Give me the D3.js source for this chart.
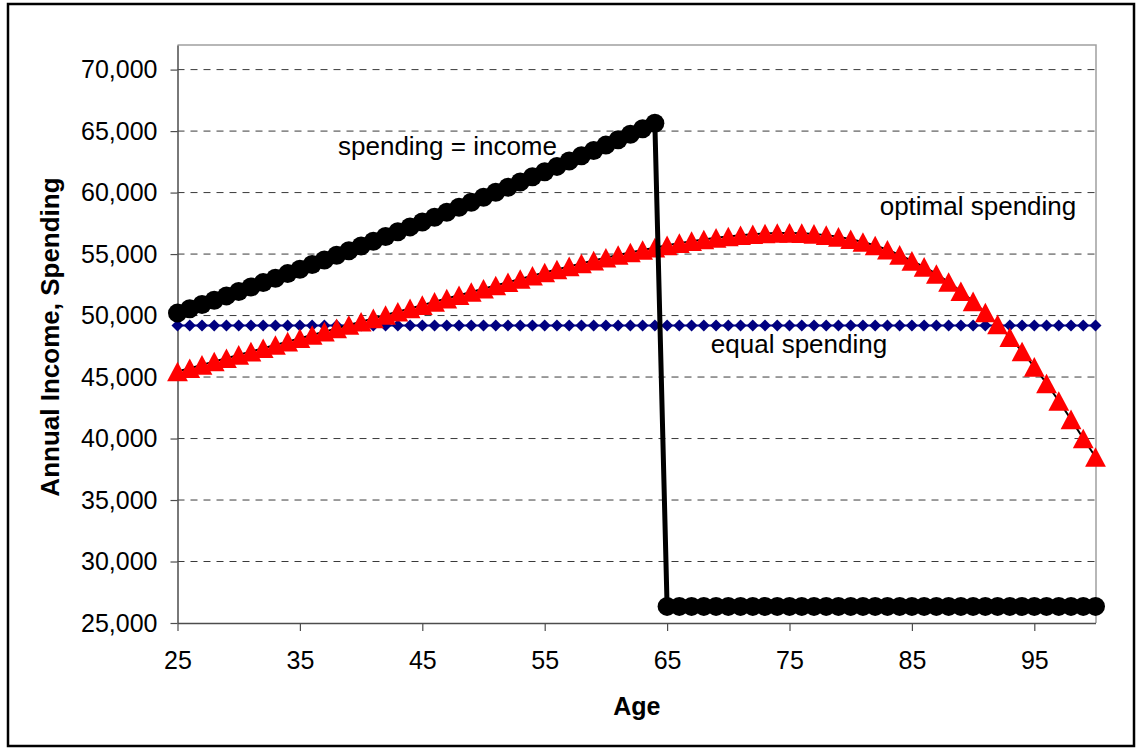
<!DOCTYPE html>
<html>
<head>
<meta charset="utf-8">
<script src="https://cdnjs.cloudflare.com/ajax/libs/d3/7.8.5/d3.min.js"></script>
<style>
  body { margin: 0; background: #ffffff; }
  text { font-family: "Liberation Sans", Arial, sans-serif; }
</style>
</head>
<body>
<div id="chart"></div>
<script>
// Ages on the x axis (one point per year)
const ages = [
  25, 26, 27, 28, 29, 30, 31, 32, 33, 34, 35, 36, 37, 38, 39, 40, 41, 42, 43, 44,
  45, 46, 47, 48, 49, 50, 51, 52, 53, 54, 55, 56, 57, 58, 59, 60, 61, 62, 63, 64,
  65, 66, 67, 68, 69, 70, 71, 72, 73, 74, 75, 76, 77, 78, 79, 80, 81, 82, 83, 84,
  85, 86, 87, 88, 89, 90, 91, 92, 93, 94, 95, 96, 97, 98, 99, 100
];

// spending = income (black circles)
const incomeSpending = [
  50200, 50550, 50900, 51250, 51600, 51960, 52320, 52680, 53040, 53410,
  53770, 54150, 54520, 54900, 55270, 55660, 56040, 56430, 56820, 57210,
  57600, 58000, 58400, 58800, 59210, 59620, 60030, 60440, 60860, 61280,
  61700, 62130, 62560, 62990, 63420, 63860, 64300, 64750, 65190, 65640,
  26350, 26350, 26350, 26350, 26350, 26350, 26350, 26350, 26350, 26350,
  26350, 26350, 26350, 26350, 26350, 26350, 26350, 26350, 26350, 26350,
  26350, 26350, 26350, 26350, 26350, 26350, 26350, 26350, 26350, 26350,
  26350, 26350, 26350, 26350, 26350, 26350
];

// equal spending (blue diamonds)
const equalSpending = [
  49200, 49200, 49200, 49200, 49200, 49200, 49200, 49200, 49200, 49200,
  49200, 49200, 49200, 49200, 49200, 49200, 49200, 49200, 49200, 49200,
  49200, 49200, 49200, 49200, 49200, 49200, 49200, 49200, 49200, 49200,
  49200, 49200, 49200, 49200, 49200, 49200, 49200, 49200, 49200, 49200,
  49200, 49200, 49200, 49200, 49200, 49200, 49200, 49200, 49200, 49200,
  49200, 49200, 49200, 49200, 49200, 49200, 49200, 49200, 49200, 49200,
  49200, 49200, 49200, 49200, 49200, 49200, 49200, 49200, 49200, 49200,
  49200, 49200, 49200, 49200, 49200, 49200
];

// optimal spending (red triangles)
const optimalSpending = [
  45450, 45720, 45990, 46260, 46530, 46800, 47070, 47340, 47610, 47880,
  48150, 48420, 48690, 48960, 49230, 49500, 49770, 50040, 50310, 50580,
  50850, 51115, 51380, 51645, 51910, 52175, 52440, 52705, 52970, 53235,
  53500, 53750, 53995, 54235, 54470, 54700, 54920, 55130, 55330, 55520,
  55710, 55890, 56050, 56190, 56320, 56430, 56530, 56610, 56670, 56710,
  56720, 56700, 56640, 56540, 56400, 56200, 55980, 55700, 55350, 54930,
  54450, 53960, 53380, 52730, 51980, 51150, 50250, 49280, 48230, 47080,
  45830, 44480, 43050, 41560, 40000, 38500
];

// Tick labels
const xTicks = [25, 35, 45, 55, 65, 75, 85, 95];
const yTicks = [25000, 30000, 35000, 40000, 45000, 50000, 55000, 60000, 65000, 70000];

const Theme = {
  color_income: '#000000',
  color_equal: '#000080',
  color_optimal: '#ff0000',
  color_axis: '#4d4d4d',
  color_grid: '#3a3a3a',
  color_frame: '#a0a0a0'
};

class IncomeChart {
  /**
   * Builds the chart inside the given div.
   * @param  {String} divName   Selector of the div holding the chart.
   */
  constructor(divName){
    this.divName = divName;
    this.width = 1139;
    this.height = 750;
    this.plot = {left: 177.5, right: 1096, top: 45, bottom: 623};
    this.xScale = d3.scaleLinear()
      .domain([25, 100])
      .range([this.plot.left, 1095.5]);
    this.yScale = d3.scaleLinear()
      .domain([25000, 72000])
      .range([this.plot.bottom, this.plot.top]);
    this.add_svg_structure();
  }

  /**
   * Adds the svg and the outer frame.
   */
  add_svg_structure(){
    this.svg = d3.select(this.divName)
      .append('svg')
        .attr('width', this.width)
        .attr('height', this.height);

    this.svg.append('rect')
      .attr('x', 8)
      .attr('y', 4)
      .attr('width', 1126)
      .attr('height', 742)
      .attr('fill', '#ffffff')
      .attr('stroke', '#000000')
      .attr('stroke-width', 2.5);
  }

  /**
   * Adds dashed gridlines and the light plot frame.
   */
  add_gridlines(){
    this.svg.append('g')
      .selectAll('line')
      .data(yTicks.filter(d => d > 25000))
      .join('line')
        .attr('x1', this.plot.left)
        .attr('x2', this.plot.right)
        .attr('y1', d => this.yScale(d))
        .attr('y2', d => this.yScale(d))
        .attr('stroke', Theme.color_grid)
        .attr('stroke-width', 1)
        .attr('stroke-dasharray', '7,6');

    this.svg.append('path')
      .attr('d', `M${this.plot.left},${this.plot.top}H${this.plot.right}V${this.plot.bottom}`)
      .attr('fill', 'none')
      .attr('stroke', Theme.color_frame)
      .attr('stroke-width', 1.5);
  }

  /**
   * Adds x and y axes with their titles.
   */
  add_axes(){
    const yAxisGenerator = d3.axisLeft(this.yScale)
      .tickValues(yTicks)
      .tickSize(7)
      .tickSizeOuter(0)
      .tickPadding(13)
      .tickFormat(d3.format(','));
    const yAxis = this.svg.append('g')
      .attr('transform', `translate(${this.plot.left},0)`)
      .call(yAxisGenerator);

    const xAxisGenerator = d3.axisBottom(this.xScale)
      .tickValues(xTicks)
      .tickSize(8)
      .tickSizeOuter(0)
      .tickPadding(20)
      .tickFormat(d3.format('d'));
    const xAxis = this.svg.append('g')
      .attr('transform', `translate(0,${this.plot.bottom})`)
      .call(xAxisGenerator);

    // Style both axes
    [xAxis, yAxis].forEach(axis => {
      axis.select('.domain')
        .attr('stroke', Theme.color_axis)
        .attr('stroke-width', 1.5);
      axis.selectAll('.tick line')
        .attr('stroke', Theme.color_axis)
        .attr('stroke-width', 1.2);
      axis.selectAll('.tick text')
        .attr('fill', '#000000')
        .style('font-size', '25px')
        .style('font-family', '"Liberation Sans", Arial, sans-serif');
    });

    // Axis titles
    this.svg.append('text')
      .attr('x', (this.plot.left + this.plot.right) / 2)
      .attr('y', 715)
      .attr('text-anchor', 'middle')
      .style('font-size', '25px')
      .style('font-weight', 'bold')
      .text('Age');

    this.svg.append('text')
      .attr('transform', `translate(59,${(this.plot.top + this.plot.bottom) / 2 + 3}) rotate(-90)`)
      .attr('text-anchor', 'middle')
      .style('font-size', '26px')
      .style('font-weight', 'bold')
      .text('Annual Income, Spending');
  }

  /**
   * Adds one series: a connecting line and its markers.
   * @param  {Array}    values       Series values, one per age.
   * @param  {String}   lineColor    Colour of the connecting line.
   * @param  {number}   lineWidth    Width of the connecting line.
   * @param  {String}   markerPath   Path of the marker, centred on 0,0.
   * @param  {String}   markerColor  Fill of the marker.
   */
  add_series(values, lineColor, lineWidth, markerPath, markerColor){
    const line = d3.line()
      .x((d, i) => this.xScale(ages[i]))
      .y(d => this.yScale(d));

    const group = this.svg.append('g');
    group.append('path')
      .datum(values)
      .attr('d', line)
      .attr('fill', 'none')
      .attr('stroke', lineColor)
      .attr('stroke-width', lineWidth)
      .attr('stroke-linejoin', 'round');

    group.selectAll('path.marker')
      .data(values)
      .join('path')
        .attr('class', 'marker')
        .attr('d', markerPath)
        .attr('transform', (d, i) => `translate(${this.xScale(ages[i])},${this.yScale(d)})`)
        .attr('fill', markerColor);
  }

  /**
   * Adds the text labels placed next to each series.
   */
  add_labels(){
    const labels = [
      {text: 'spending = income', x: 447.5, y: 155},
      {text: 'optimal spending', x: 978, y: 215},
      {text: 'equal spending', x: 799, y: 353}
    ];
    this.svg.append('g')
      .selectAll('text')
      .data(labels)
      .join('text')
        .attr('x', d => d.x)
        .attr('y', d => d.y)
        .attr('text-anchor', 'middle')
        .attr('fill', '#000000')
        .style('font-size', '26px')
        .text(d => d.text);
  }
}

const chart = new IncomeChart('#chart');
chart.add_gridlines();
chart.add_axes();

// Markers
const diamond = 'M0,-6L6,0L0,6L-6,0Z';
const triangle = 'M0,-9.8L10.4,9.8L-10.4,9.8Z';
const circle = d3.symbol(d3.symbolCircle, Math.PI * 9.5 * 9.5)();

chart.add_series(equalSpending, Theme.color_equal, 2, diamond, Theme.color_equal);
chart.add_series(optimalSpending, '#000000', 2, triangle, Theme.color_optimal);
chart.add_series(incomeSpending, Theme.color_income, 5, circle, Theme.color_income);
chart.add_labels();
</script>
</body>
</html>
